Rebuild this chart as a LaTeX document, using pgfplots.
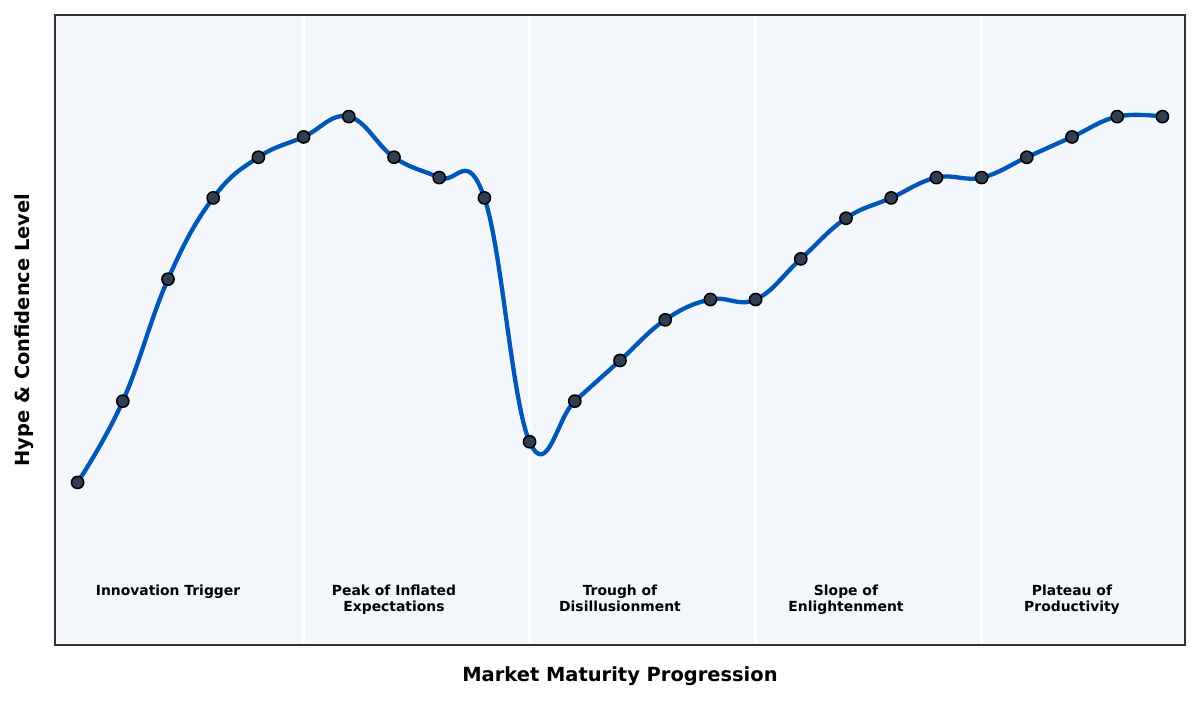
\documentclass[border=0pt]{standalone}
\usepackage{fontspec}
\setmainfont{DejaVu Sans}
\usepackage{pgfplots}
\pgfplotsset{compat=1.18}
\definecolor{hypeblue}{RGB}{0,87,183}
\definecolor{markfill}{RGB}{47,62,80}
\definecolor{bgpanel}{RGB}{243,247,251}
\definecolor{framegray}{RGB}{51,51,51}
\begin{document}
\begin{tikzpicture}
% fixed page: 1 px = 0.72pt, axis frame from (55,15) to (1185,645) px
\path[use as bounding box] (-39.6pt,-39.6pt) rectangle (824.4pt,464.4pt);
\begin{axis}[
    at={(0,0)}, anchor=south west,
    scale only axis,
    width=813.6pt, height=453.6pt,
    xmin=-0.5, xmax=24.5,
    ymin=-30, ymax=125,
    axis background/.style={fill=bgpanel},
    axis line style={framegray, line width=1.1pt},
    xtick={5,10,15,20}, ytick=\empty,
    xticklabels={}, major tick length=0pt,
    xmajorgrids, grid style={white, line width=2pt},
    xlabel={\bfseries Market Maturity Progression},
    ylabel={\bfseries Hype \& Confidence Level},
    label style={font=\fontsize{14}{16}\selectfont},
    xlabel style={at={(axis description cs:0.5,0)}, anchor=center, yshift=-22.8pt},
    ylabel style={at={(axis description cs:0,0.5)}, anchor=center, yshift=22.3pt},
    clip=false,
]
\addplot[hypeblue, line width=3.1pt, smooth, tension=0.7,
    mark=*, mark size=4.4pt,
    mark options={fill=markfill, draw=black, line width=1.1pt}]
coordinates {
(0,10) (1,30) (2,60) (3,80) (4,90) (5,95) (6,100) (7,90) (8,85) (9,80)
(10,20) (11,30) (12,40) (13,50) (14,55) (15,55) (16,65) (17,75) (18,80) (19,85)
(20,85) (21,90) (22,95) (23,100) (24,100)
};
\begin{scope}[every node/.style={font=\fontsize{10}{11.6}\selectfont\bfseries, align=center, anchor=north, inner sep=0pt}]
\node at (axis cs:2,-15.2) {Innovation Trigger};
\node at (axis cs:7,-15.2) {Peak of Inflated\\Expectations};
\node at (axis cs:12,-15.2) {Trough of\\Disillusionment};
\node at (axis cs:17,-15.2) {Slope of\\Enlightenment};
\node at (axis cs:22,-15.2) {Plateau of\\Productivity};
\end{scope}
\end{axis}
\end{tikzpicture}
\end{document}
